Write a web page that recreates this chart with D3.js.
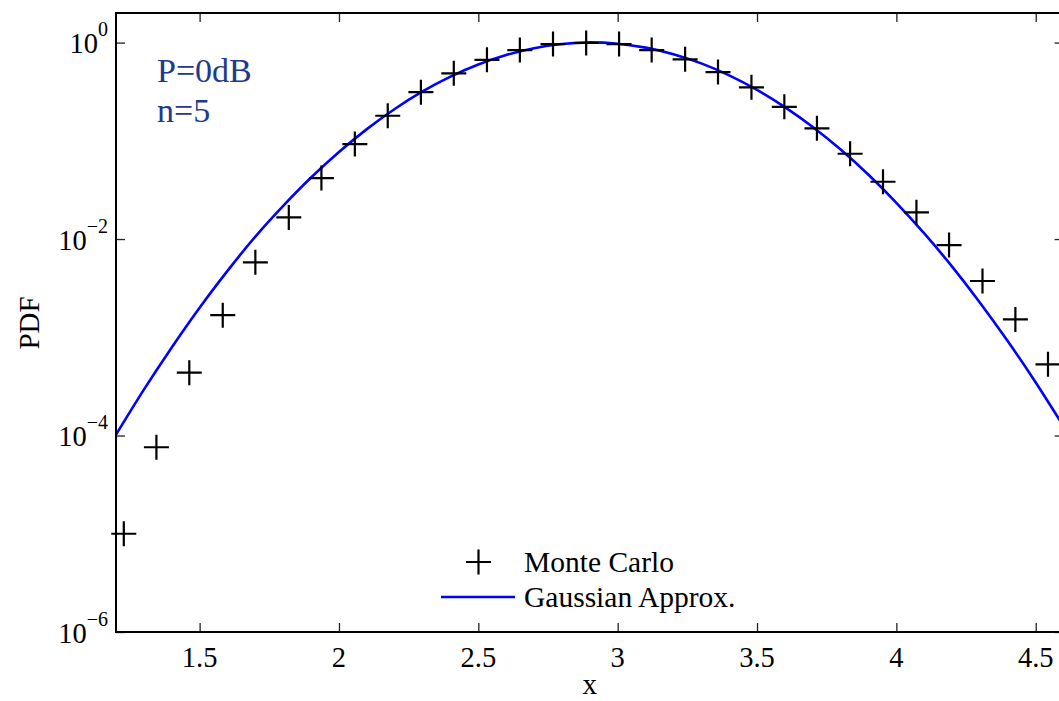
<!DOCTYPE html>
<html>
<head>
<meta charset="utf-8">
<script src="https://cdn.jsdelivr.net/npm/d3@7"></script>
<style>
  html, body { margin: 0; padding: 0; background: #fff; }
  svg { display: block; font-family: "Liberation Serif", "Times New Roman", serif; }
</style>
</head>
<body>
<svg id="chart" width="1059" height="701"></svg>
<script>
// Monte Carlo samples (x, PDF)
const mcX = [1.228, 1.345, 1.463, 1.583, 1.700, 1.820, 1.937, 2.057, 2.175, 2.294,
             2.412, 2.531, 2.649, 2.768, 2.887, 3.005, 3.122, 3.242, 3.360, 3.480,
             3.598, 3.715, 3.834, 3.952, 4.072, 4.189, 4.309, 4.427, 4.544];
const mcY = [1.0e-5, 7.6e-5, 4.36e-4, 1.68e-3, 5.79e-3, 0.0166, 0.0418, 0.0927, 0.180, 0.313,
             0.486, 0.668, 0.839, 0.965, 0.990, 0.966, 0.839, 0.675, 0.501, 0.350,
             0.222, 0.134, 0.0738, 0.0383, 0.0187, 0.00869, 0.00374, 0.00152, 5.3e-4];

// Gaussian approximation curve (x, PDF)
const gaX = [1.2, 1.3, 1.4, 1.5, 1.6, 1.7, 1.8, 1.9, 2.0, 2.1, 2.2, 2.3, 2.4, 2.5, 2.6, 2.7, 2.8,
             2.9, 3.0, 3.1, 3.2, 3.3, 3.4, 3.5, 3.6, 3.7, 3.8, 3.9, 4.0, 4.1, 4.2, 4.3, 4.4, 4.5, 4.6];
const gaY = [1.02e-4, 2.93e-4, 7.89e-4, 2.0e-3, 4.74e-3, 0.0106, 0.0218, 0.0423, 0.0769, 0.1315,
             0.211, 0.318, 0.450, 0.598, 0.747, 0.877, 0.966, 1.005, 0.973, 0.888,
             0.762, 0.614, 0.464, 0.330, 0.220, 0.138, 0.0814, 0.0451, 0.0234, 0.0114,
             0.00524, 0.00225, 9.1e-4, 3.47e-4, 1.24e-4];

// Axis ticks
const xTicks = [1.5, 2, 2.5, 3, 3.5, 4, 4.5];
const xTickLabels = ["1.5", "2", "2.5", "3", "3.5", "4", "4.5"];
const yTicks = [1e0, 1e-2, 1e-4, 1e-6];
const yTickExps = ["0", "\u22122", "\u22124", "\u22126"];

const legendLabels = ["Monte Carlo", "Gaussian Approx."];
const annotations = ["P=0dB", "n=5"];

const svg = d3.select("#chart");
const L = 116, R = 1063.6, T = 13, B = 632;

const x = d3.scaleLinear().domain([1.2, 4.6]).range([L, R]);
const y = d3.scaleLog().domain([1e-6, 2]).range([B, T]);

svg.append("defs").append("clipPath").attr("id", "clip")
  .append("rect").attr("x", L).attr("y", T).attr("width", R - L).attr("height", B - T);

// Ticks (inward) via d3 axes
const tickLen = 9;
const gxB = svg.append("g").attr("transform", `translate(0,${B})`)
  .call(d3.axisTop(x).tickValues(xTicks).tickSize(tickLen).tickFormat(""));
const gxT = svg.append("g").attr("transform", `translate(0,${T})`)
  .call(d3.axisBottom(x).tickValues(xTicks).tickSize(tickLen).tickFormat(""));
const gyL = svg.append("g").attr("transform", `translate(${L},0)`)
  .call(d3.axisRight(y).tickValues(yTicks).tickSize(tickLen).tickFormat(""));
const gyR = svg.append("g").attr("transform", `translate(${R},0)`)
  .call(d3.axisLeft(y).tickValues(yTicks).tickSize(tickLen).tickFormat(""));
[gxB, gxT, gyL, gyR].forEach(g => {
  g.select(".domain").remove();
  g.selectAll(".tick line").attr("stroke", "#222").attr("stroke-width", 1.3);
});

// X tick labels
svg.append("g").selectAll("text").data(xTicks).join("text")
  .attr("x", d => x(d)).attr("y", 667)
  .attr("text-anchor", "middle").attr("font-size", 28.5).attr("fill", "#000")
  .text((d, i) => xTickLabels[i]);

// Y tick labels with superscripts
const yl = svg.append("g").selectAll("text").data(yTicks).join("text")
  .attr("x", 108).attr("y", d => y(d) + 10.5)
  .attr("text-anchor", "end").attr("font-size", 28.5).attr("fill", "#000");
yl.append("tspan").text("10");
yl.append("tspan").attr("dy", -17).attr("font-size", 20).text((d, i) => yTickExps[i]);

// Axis labels
svg.append("text").attr("x", x(2.9)).attr("y", 694)
  .attr("text-anchor", "middle").attr("font-size", 29).text("x");
svg.append("text").attr("transform", `translate(39,${323}) rotate(-90)`)
  .attr("text-anchor", "middle").attr("font-size", 29).text("PDF");

// Gaussian curve
const line = d3.line().x(d => x(d[0])).y(d => y(d[1])).curve(d3.curveNatural);
svg.append("path").attr("clip-path", "url(#clip)")
  .datum(gaX.map((v, i) => [v, gaY[i]]))
  .attr("d", line).attr("fill", "none").attr("stroke", "#0000ff").attr("stroke-width", 2.6);

// Monte Carlo markers
const plus = "M-12.5,0H12.5M0,-12.5V12.5";
svg.append("g").selectAll("path").data(mcX.map((v, i) => [v, mcY[i]])).join("path")
  .attr("transform", d => `translate(${x(d[0])},${y(d[1])})`)
  .attr("d", plus).attr("fill", "none").attr("stroke", "#000").attr("stroke-width", 2.2);

// Box
svg.append("rect").attr("x", L).attr("y", T).attr("width", R - L).attr("height", B - T)
  .attr("fill", "none").attr("stroke", "#000").attr("stroke-width", 2);

// Annotation
svg.append("g").selectAll("text").data(annotations).join("text")
  .attr("x", 157).attr("y", (d, i) => 82 + i * 40)
  .attr("font-size", 34).attr("fill", "#22388f").text(d => d);

// Legend
svg.append("path").attr("transform", "translate(478.5,562)")
  .attr("d", plus).attr("fill", "none").attr("stroke", "#000").attr("stroke-width", 2.2);
svg.append("line").attr("x1", 441).attr("x2", 515).attr("y1", 597).attr("y2", 597)
  .attr("stroke", "#0000ff").attr("stroke-width", 2.6);
svg.append("g").selectAll("text").data(legendLabels).join("text")
  .attr("x", 524).attr("y", (d, i) => 572 + i * 35)
  .attr("font-size", 29.5).attr("fill", "#000").text(d => d);
</script>
</body>
</html>
